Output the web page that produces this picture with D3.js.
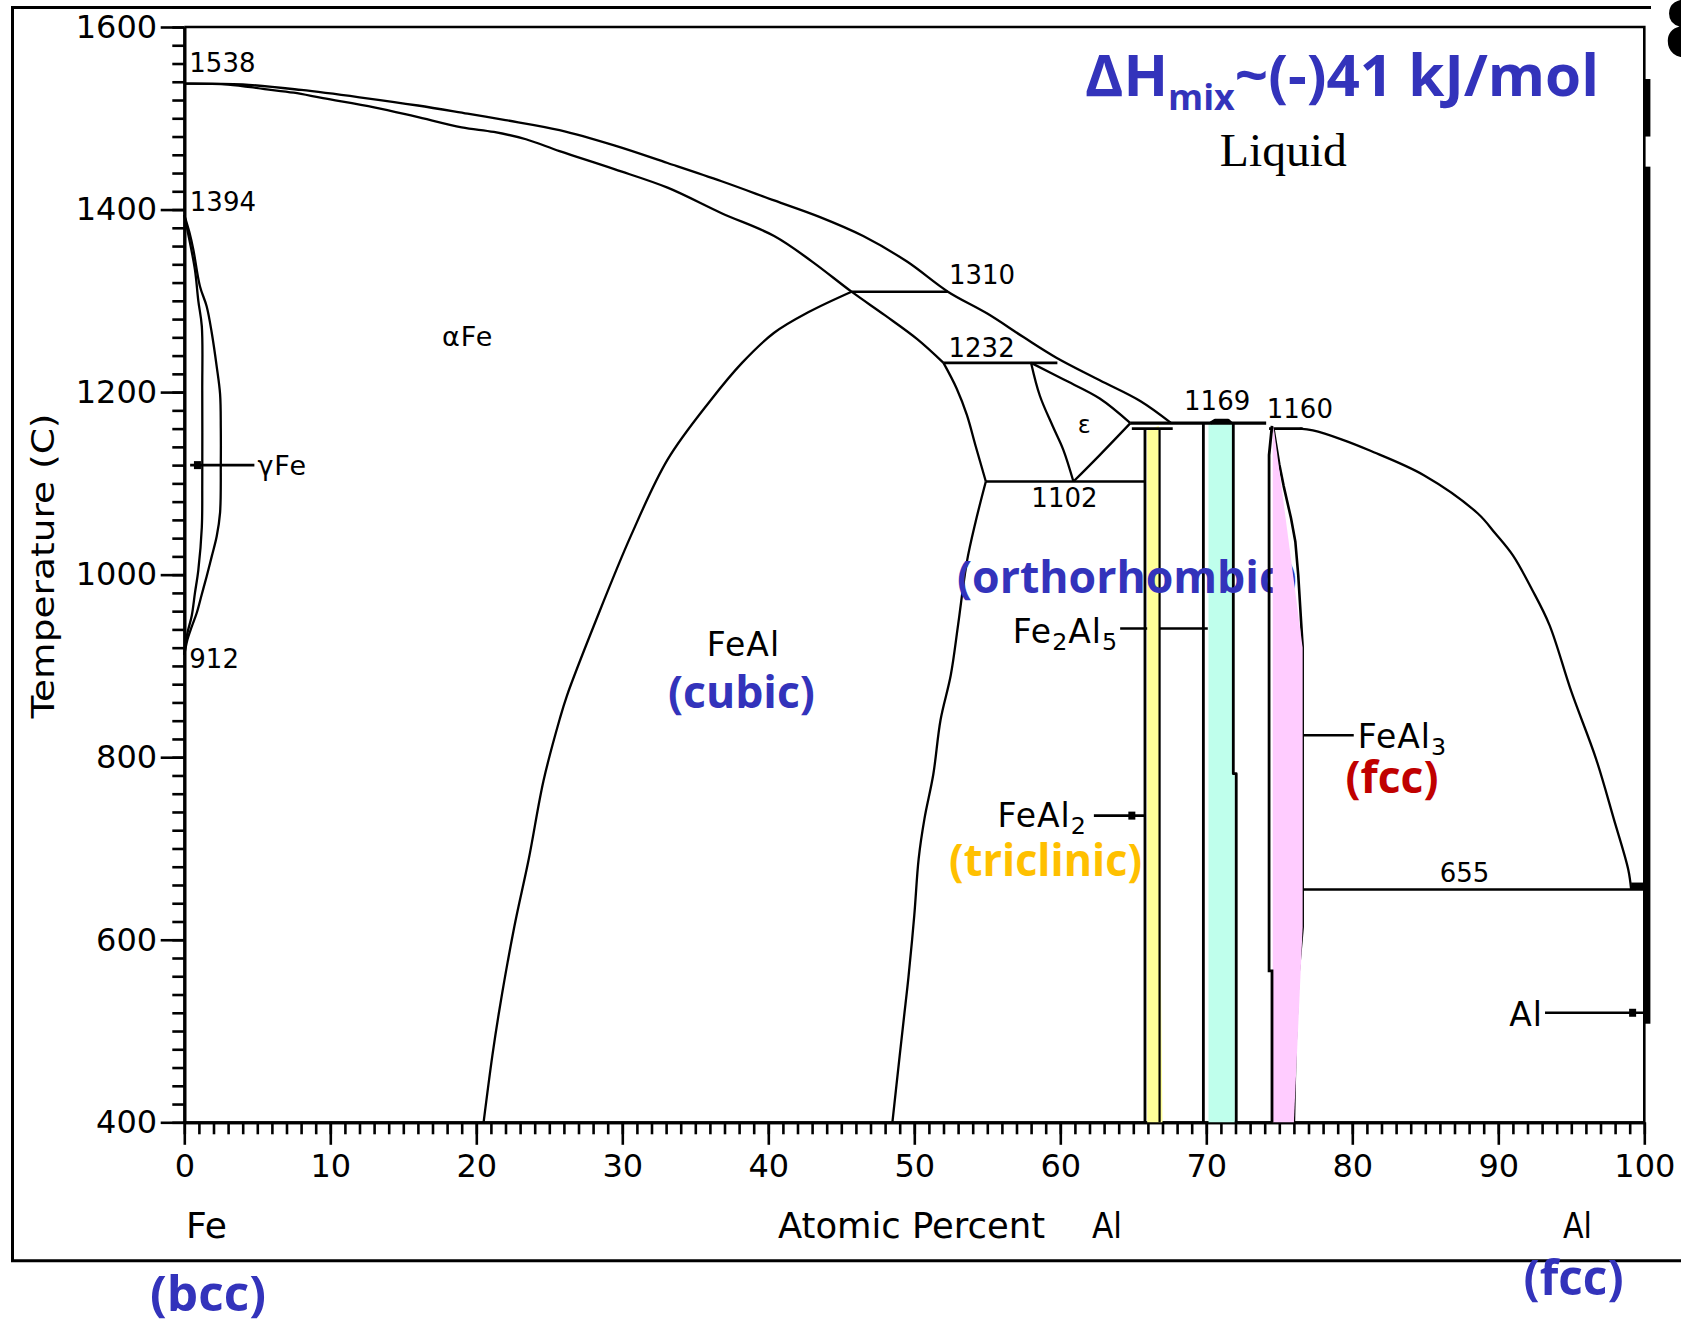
<!DOCTYPE html>
<html>
<head>
<meta charset="utf-8">
<title>Fe–Al phase diagram</title>
<script src="https://cdn.jsdelivr.net/npm/d3@7"></script>
<style>
  html, body { margin: 0; padding: 0; background: #fff; }
  svg { display: block; }
</style>
</head>
<body>
<svg id="chart" width="1681" height="1320" xmlns="http://www.w3.org/2000/svg"></svg>
<script>
// ---------- axis ticks ----------
const xTickValues = d3.range(0, 101, 10);
const yTickValues = d3.range(400, 1601, 200);
const xMinorTicks = d3.range(0, 101, 1);
const yMinorTicks = d3.range(400, 1601, 20);

// ---------- phase boundaries, [at.% Al, °C] ----------
const liquidusFe = [[0,1538],[4,1537],[8,1531],[12,1523],[16,1514],[19.4,1505],[22,1498],[25.7,1487],
  [29.5,1470],[33.1,1451],[36.8,1431],[40.4,1410],[43.5,1392],[46.5,1371],[49.5,1343],[52.3,1310],
  [55,1286],[57.5,1260],[59.7,1238],[62.7,1213],[65.5,1190],[67.6,1166]];
const solidusFe = [[0,1538],[3,1537],[5.5,1532],[7.5,1528],[9.5,1522],[13,1512],[15.8,1502],[19,1490],
  [21.2,1485],[23.4,1477],[25.7,1464],[29.5,1444],[33.1,1424],[36.8,1396],[40.4,1371],[43,1343],
  [45.7,1310],[48,1284],[50.2,1258],[52.0,1232]];
const gammaOuter = [[0,1394],[0.35,1375],[0.62,1356],[1.07,1316],[1.53,1294],[1.88,1265],[2.22,1228],
  [2.45,1198],[2.5,1160],[2.5,1120],[2.45,1068],[2.22,1042],[1.88,1020],[1.53,998],[1.19,978],
  [0.85,958],[0.51,943],[0.2,928],[0,912]];
const gammaInner = [[0,1394],[0.27,1373],[0.73,1334],[0.96,1300],[1.2,1272],[1.23,1200],[1.23,1100],
  [1.2,1052],[0.96,1005],[0.73,980],[0.51,955],[0.2,935],[0,912]];
const feAlOrder = [[20.5,400],[21.1,473],[21.6,525],[22.6,614],[23.6,689],[24.6,774],[25.7,841],
  [26.2,867],[28.2,950],[30.6,1043],[33.1,1126],[36.0,1190],[38.2,1232],[40.4,1265],[42.8,1288],[45.7,1310]];
const feAlRight = [[48.5,400],[49.0,473],[49.3,516],[49.6,559],[50.0,627],[50.3,689],[50.7,733],
  [51.3,781],[51.8,841],[52.5,890],[53.0,945],[53.6,1014],[54.2,1058],[54.9,1102]];
const feAlHigh = [[54.9,1102],[54.2,1141],[53.6,1175],[52.9,1204],[52.0,1232]];
const epsLeft = [[58.0,1232],[58.6,1196],[59.5,1162],[60.2,1137],[60.9,1102]];
const epsUpper = [[58.0,1232],[60.2,1214],[62.7,1193],[64.8,1166]];
const epsLower = [[60.9,1102],[62.7,1131],[64.8,1166]];
const liquidusAl = [[76.4,1160],[77.3,1158],[79.3,1148],[81.2,1136],[84.9,1109],[88.6,1067],[89.8,1045],
  [91.0,1021],[92.3,984],[93.5,945],[95.0,872],[96.7,798],[97.9,733],[98.9,677],[99.1,655]];

// intermetallic phase limits
const feAl2Left = [[65.8,1160],[65.8,400]];
const feAl2Right = [[66.8,1160],[66.8,400]];
const fe2Al5Left = [[69.8,1166],[69.8,400]];
const fe2Al5Right = [[71.85,1166],[71.85,782],[72.05,782],[72.05,400]];
const fe2Al5Peak = [[70.3,1166],[70.6,1169],[71.5,1169],[71.7,1166]];
const feAl3Left = [[74.5,1163],[74.3,1131],[74.3,566],[74.5,566],[74.5,400]];
const feAl3Right = [[74.6,1160],[75.0,1121],[75.3,1097],[75.8,1062],[76.1,1036],[76.3,999],
  [76.6,921],[76.6,614],[76.3,560],[76.1,480],[76.0,400]];

// shaded single-phase fields
const feAl2Field = [[65.95,1158],[66.75,1163],[66.8,700],[67.0,400],[65.95,400]];
const fe2Al5Field = [[70.15,1166],[71.8,1166],[71.8,782],[71.95,782],[71.95,400],[70.15,400]];
const feAl3Field = [[74.6,1163],[76.6,920],[76.6,614],[76.0,400],[74.55,400],[74.55,1150]];

// transformation temperatures of pure Fe
const feTransitions = [1538, 1394, 912];

// invariant reactions: temperature and composition span
const invariants = [
  { T: 1310, span: [45.7, 52.3] },
  { T: 1232, span: [52.0, 59.8] },
  { T: 1102, span: [54.9, 65.8] },
  { T: 1166, span: [64.8, 74.1] },
  { T: 1160, span: [64.9, 67.7] },
  { T: 1160, span: [74.3, 76.6] },
  { T: 655,  span: [76.6, 100] }
];

// labelled single phases with leader lines
const leaders = [
  { label: 'γFe',    T: 1120, span: [0.4, 4.8],   marker: 0.9 },
  { label: 'FeAl2',  T: 736,  span: [62.3, 65.8], marker: 64.9 },
  { label: 'Fe2Al5', T: 941,  span: [64.1, 70.1], marker: null },
  { label: 'FeAl3',  T: 824,  span: [76.6, 80.1], marker: null },
  { label: 'Al',     T: 520,  span: [93.2, 100],  marker: 99.2 }
];

// solid Al edge (heavy segments along the 100 % line)
const alEdge = [[1543, 1480], [1447, 508]];

// ---------- drawing ----------
const svg = d3.select('#chart');
const x = d3.scaleLinear().domain([0, 100]).range([184.3, 1644.3]);
const y = d3.scaleLinear().domain([400, 1600]).range([1122.3, 27]);

const smooth = d3.line().x(d => x(d[0])).y(d => y(d[1])).curve(d3.curveCatmullRom.alpha(0.5));
const straight = d3.line().x(d => x(d[0])).y(d => y(d[1]));
const PIXEL = '"DejaVu Sans", "Liberation Sans", sans-serif';
const BOLD = '"Open Sans", "Noto Sans", "DejaVu Sans", sans-serif';

// outer frame
svg.append('path')
  .attr('d', 'M1651,7.6 H12.5 V1260.7 H1681')
  .attr('fill', 'none').attr('stroke', '#000').attr('stroke-width', 3);

// axes
function styleAxis(g) {
  g.attr('font-family', PIXEL).attr('font-size', 32);
  g.selectAll('.domain').attr('stroke-width', 3);
  g.selectAll('.tick line').attr('stroke-width', 2.6);
  g.selectAll('.tick text').attr('fill', '#000');
}
const gy = svg.append('g').attr('transform', `translate(${x(0)},0)`);
gy.append('g').call(d3.axisLeft(y).tickValues(yMinorTicks).tickSize(12).tickSizeOuter(0).tickFormat(''))
  .call(styleAxis);
gy.append('g').call(d3.axisLeft(y).tickValues(yTickValues).tickSize(23.6).tickSizeOuter(0)
  .tickPadding(3.6).tickFormat(d3.format('d')))
  .call(styleAxis);

const gx = svg.append('g').attr('transform', `translate(0,${y(400)})`);
gx.append('g').call(d3.axisBottom(x).tickValues(xMinorTicks).tickSize(12).tickSizeOuter(0).tickFormat(''))
  .call(styleAxis);
gx.append('g').call(d3.axisBottom(x).tickValues(xTickValues).tickSize(22.5).tickSizeOuter(0)
  .tickPadding(9).tickFormat(d3.format('d')))
  .call(styleAxis);

// plot border (top and right)
svg.append('path')
  .attr('d', `M${x(0)},${y(1600)} H${x(100)} V${y(400)}`)
  .attr('fill', 'none').attr('stroke', '#000').attr('stroke-width', 2.6);
svg.selectAll('rect.aledge').data(alEdge).join('rect')
  .attr('class', 'aledge')
  .attr('x', x(100) - 1.3).attr('width', 7.4)
  .attr('y', d => y(d[0])).attr('height', d => y(d[1]) - y(d[0]))
  .attr('fill', '#000');

// axis titles
svg.append('text')
  .attr('transform', `translate(53.5,566) rotate(-90)`)
  .attr('text-anchor', 'middle').attr('font-family', PIXEL).attr('font-size', 32)
  .attr('textLength', 305).attr('lengthAdjust', 'spacingAndGlyphs')
  .text('Temperature (C)');
const axisNames = [
  { text: 'Fe', x: 186, w: 41 },
  { text: 'Atomic Percent', x: 778, w: 267 },
  { text: 'Al', x: 1092, w: 30 },
  { text: 'Al', x: 1563, w: 29 }
];
svg.append('g').selectAll('text').data(axisNames).join('text')
  .attr('x', d => d.x).attr('y', 1238)
  .attr('font-family', PIXEL).attr('font-size', 36)
  .attr('textLength', d => d.w).attr('lengthAdjust', 'spacingAndGlyphs')
  .text(d => d.text);

// leader lines (drawn beneath the shaded phase fields)
const gLead = svg.append('g');
gLead.selectAll('line').data(leaders).join('line')
  .attr('x1', d => x(d.span[0])).attr('x2', d => x(d.span[1]))
  .attr('y1', d => y(d.T)).attr('y2', d => y(d.T))
  .attr('stroke', '#000').attr('stroke-width', 2.6);
gLead.selectAll('rect').data(leaders.filter(d => d.marker !== null)).join('rect')
  .attr('x', d => x(d.marker) - 3.5).attr('y', d => y(d.T) - 4)
  .attr('width', 7).attr('height', 8).attr('fill', '#000');

// shaded fields for FeAl2 and Fe2Al5
svg.append('path').attr('d', straight(feAl2Field) + 'Z').attr('fill', '#FFFF99');
svg.append('path').attr('d', straight(fe2Al5Field) + 'Z').attr('fill', '#BFFFEC');

// phase boundaries
const gB = svg.append('g').attr('fill', 'none').attr('stroke', '#000')
  .attr('stroke-linejoin', 'round').attr('stroke-width', 2.3);
[liquidusFe, solidusFe, gammaOuter, gammaInner, feAlOrder, feAlRight, feAlHigh,
 epsLeft, epsUpper, epsLower, liquidusAl].forEach(c => gB.append('path').attr('d', smooth(c)));
gB.append('path').attr('d', straight(feAl3Right)).attr('stroke-width', 2.6);
[feAl2Left, fe2Al5Left, fe2Al5Right].forEach(c =>
  gB.append('path').attr('d', straight(c)).attr('stroke-width', 2.8));
gB.append('path').attr('d', straight(feAl2Right)).attr('stroke-width', 2.2);
gB.append('path').attr('d', straight(fe2Al5Peak)).attr('stroke-width', 3.4);

// invariant lines
svg.append('g').selectAll('line').data(invariants).join('line')
  .attr('x1', d => x(d.span[0])).attr('x2', d => x(d.span[1]))
  .attr('y1', d => y(d.T)).attr('y2', d => y(d.T))
  .attr('stroke', '#000').attr('stroke-width', d => d.T === 1166 ? 3.4 : 2.6);
// eutectic end on the Al side
svg.append('rect').attr('x', x(99.1)).attr('y', y(655) - 7)
  .attr('width', x(100) - x(99.1)).attr('height', 7).attr('fill', '#000');

// temperature labels
const tempLabelLayout = {
  1538: { at: 0, dx: 5, dy: -12, anchor: 'start' },
  1394: { at: 0, dx: 5.5, dy: -4.3, anchor: 'start' },
  912:  { at: 0, dx: 5, dy: 13.3, anchor: 'start' },
  1310: { at: 52.3, dx: 1, dy: -8, anchor: 'start' },
  1232: { at: 52.0, dx: 5, dy: -6, anchor: 'start' },
  1102: { at: 60.9, dx: -9, dy: 25, anchor: 'middle' },
  1169: { at: 70.95, dx: -3, dy: -10, anchor: 'middle' },
  1160: { at: 74.3, dx: -2.3, dy: -11, anchor: 'start' },
  655:  { at: 88.3, dx: -9, dy: -7.5, anchor: 'middle' }
};
const labelledTemps = [...feTransitions, 1310, 1232, 1102, d3.max(fe2Al5Peak, d => d[1]), 1160, 655];
svg.append('g').attr('font-family', PIXEL).attr('font-size', 26)
  .selectAll('text').data(labelledTemps).join('text')
  .attr('x', T => x(tempLabelLayout[T].at) + tempLabelLayout[T].dx)
  .attr('y', T => y(T) + tempLabelLayout[T].dy)
  .attr('text-anchor', T => tempLabelLayout[T].anchor)
  .text(T => String(T));

// phase names with chemical subscripts
function formula(sel, name, size) {
  let shift = 0;
  name.split(/(\d+)/).filter(s => s.length).forEach(part => {
    const sub = /^\d+$/.test(part);
    const target = sub ? 7 : 0;
    sel.append('tspan')
      .attr('font-size', sub ? size * 0.72 : size)
      .attr('dy', target - shift)
      .text(part);
    shift = target;
  });
}
const leaderLabelLayout = {
  'γFe':    { side: 1, dx: 3,  dy: 10, size: 27 },
  'FeAl2':  { side: 0, dx: -7, dy: 11.5, size: 33 },
  'Fe2Al5': { side: 0, dx: -2, dy: 14.5, size: 33 },
  'FeAl3':  { side: 1, dx: 4,  dy: 12.6, size: 33 },
  'Al':     { side: 0, dx: -2, dy: 13, size: 33 }
};
leaders.forEach(d => {
  const L = leaderLabelLayout[d.label];
  const t = svg.append('text')
    .attr('x', x(d.span[L.side]) + L.dx).attr('y', y(d.T) + L.dy)
    .attr('text-anchor', L.side === 0 ? 'end' : 'start')
    .attr('font-family', PIXEL).attr('font-size', L.size)
    .attr('letter-spacing', 1);
  formula(t, d.label, L.size);
});

// field names
const fieldLabels = [
  { text: 'αFe',  pos: [17.65, 1250.5], size: 27, anchor: 'start' },
  { text: 'FeAl', pos: [38.3, 910.8],   size: 33, anchor: 'middle' },
  { text: 'ε',    pos: [61.2, 1155],    size: 24, anchor: 'start' }
];
svg.append('g').selectAll('text').data(fieldLabels).join('text')
  .attr('x', d => x(d.pos[0])).attr('y', d => y(d.pos[1]))
  .attr('text-anchor', d => d.anchor).attr('font-family', PIXEL)
  .attr('font-size', d => d.size).attr('letter-spacing', 1)
  .text(d => d.text);
svg.append('text').attr('x', x(70.93)).attr('y', y(1447.7))
  .attr('font-family', '"Liberation Serif", "DejaVu Serif", serif').attr('font-size', 47)
  .attr('textLength', 127).attr('lengthAdjust', 'spacingAndGlyphs').text('Liquid');

// crystal structure notes
const notes = [
  { text: '(cubic)',        x: x(38.16), y: y(853.9), w: 147, size: 45, color: '#3333BB', anchor: 'middle' },
  { text: '(orthorhombic)', x: x(52.92), y: y(979.9), w: 340, size: 45, color: '#3333BB', anchor: 'start' },
  { text: '(triclinic)',    x: x(52.38), y: y(669.8), w: 193, size: 45, color: '#FFC000', anchor: 'start' },
  { text: '(fcc)',          x: x(79.53), y: y(760.8), w: 93,  size: 45, color: '#C00000', anchor: 'start' },
  { text: '(bcc)',          x: 150,      y: 1311,     w: 116, size: 49, color: '#3333BB', anchor: 'start' },
  { text: '(fcc)',          x: 1523.6,   y: 1295,     w: 100, size: 49, color: '#3333BB', anchor: 'start' }
];
svg.append('g').selectAll('text').data(notes).join('text')
  .attr('x', d => d.x).attr('y', d => d.y)
  .attr('text-anchor', d => d.anchor)
  .attr('font-family', BOLD).attr('font-weight', 700)
  .attr('font-size', d => d.size).attr('fill', d => d.color)
  .attr('textLength', d => d.w).attr('lengthAdjust', 'spacingAndGlyphs')
  .text(d => d.text);

// mixing enthalpy
const title = svg.append('text').attr('x', 1085).attr('y', 96)
  .attr('font-family', BOLD).attr('font-weight', 700).attr('font-size', 57).attr('fill', '#3333BB')
  .attr('textLength', 514).attr('lengthAdjust', 'spacingAndGlyphs');
title.append('tspan').text('ΔH');
title.append('tspan').attr('font-size', 35).attr('dy', 14).text('mix');
title.append('tspan').attr('dy', -14).text('~(-)41 kJ/mol');

// FeAl3 field, shaded over everything below it
svg.append('path').attr('d', straight(feAl3Field) + 'Z').attr('fill', '#FFCCFF');
svg.append('path').attr('d', straight(feAl3Left)).attr('fill', 'none')
  .attr('stroke', '#000').attr('stroke-width', 2.8);

// clipped glyph at the right edge
svg.append('text').attr('x', 1663).attr('y', 57)
  .attr('font-family', PIXEL).attr('font-weight', 700).attr('font-size', 78).text('8');
</script>
</body>
</html>
